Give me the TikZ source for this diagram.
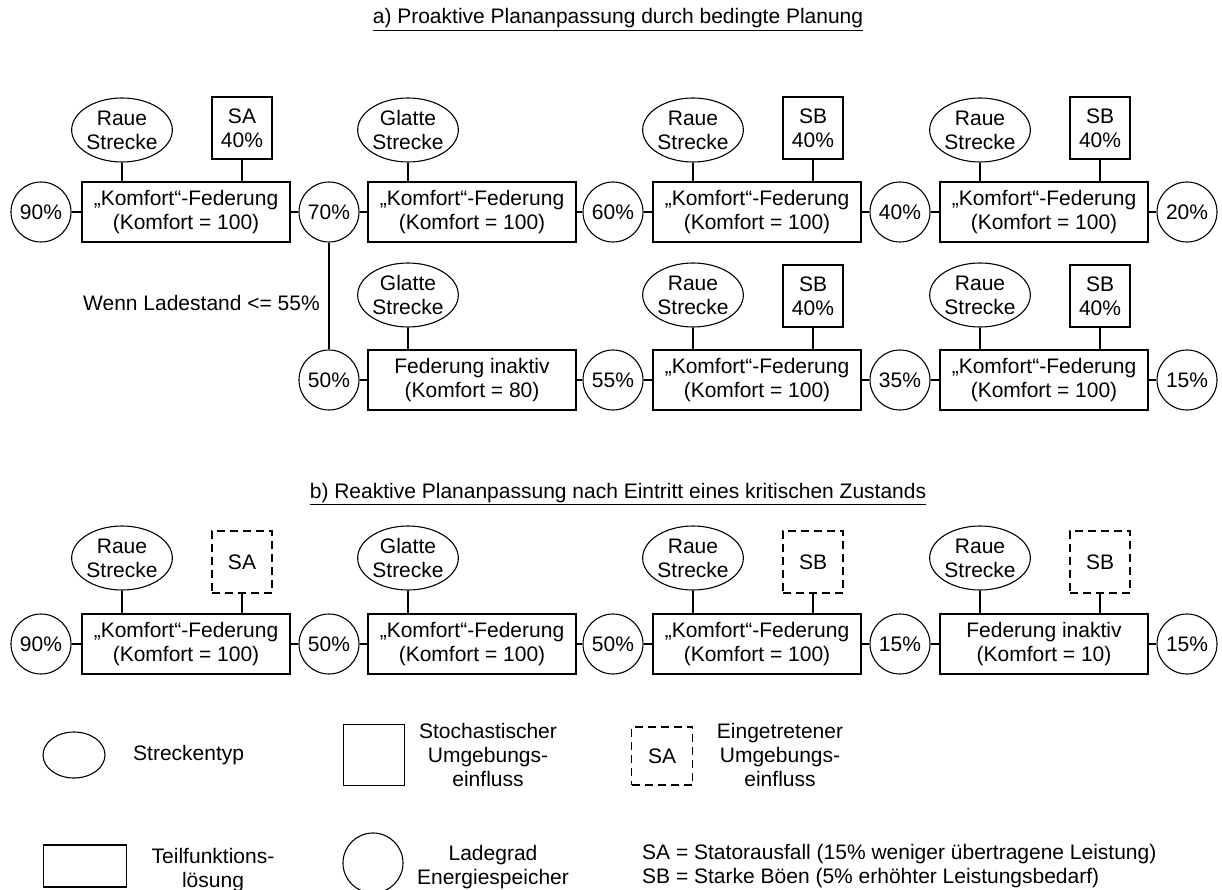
\documentclass[tikz,border=0pt]{standalone}
\usepackage{fontspec}
\setmainfont{Liberation Sans}
\usetikzlibrary{shapes.geometric}

\begin{document}
\begin{tikzpicture}[x=1pt,y=-1pt,
  every node/.style={font=\fontsize{21}{24}\selectfont, align=center, inner sep=0pt},
  fn/.style={draw, line width=1.1pt, minimum width=208pt, minimum height=60pt},
  soc/.style={draw, line width=1.1pt, circle, minimum size=60pt},
  track/.style={draw, line width=1.1pt, ellipse, minimum width=90pt, minimum height=64pt},
  env/.style={draw, line width=1.1pt, minimum width=60pt, minimum height=62pt},
  envd/.style={env, dash pattern=on 8pt off 5pt},
  link/.style={line width=1.1pt},
  heading/.style={anchor=base}
]
\useasboundingbox (0,0) rectangle (1222,890);

% ---------- a) proactive ----------
\node[heading] (ta) at (618,24) {\underline{a) Proaktive Plananpassung durch bedingte Planung}};

% upper branch
\node[soc] (a1c1) at (41,212) {90\%};
\node[fn]  (a1r1) at (186,212) {„Komfort“-Federung\\(Komfort = 100)};
\node[soc] (a1c2) at (329,212) {70\%};
\node[fn]  (a1r2) at (472,212) {„Komfort“-Federung\\(Komfort = 100)};
\node[soc] (a1c3) at (613,212) {60\%};
\node[fn]  (a1r3) at (757,212) {„Komfort“-Federung\\(Komfort = 100)};
\node[soc] (a1c4) at (900,212) {40\%};
\node[fn]  (a1r4) at (1044,212) {„Komfort“-Federung\\(Komfort = 100)};
\node[soc] (a1c5) at (1187,212) {20\%};

\node[track] (a1e1) at (122,130) {Raue\\Strecke};
\node[env]   (a1s1) at (242,128) {SA\\40\%};
\node[track] (a1e2) at (408,130) {Glatte\\Strecke};
\node[track] (a1e3) at (693,130) {Raue\\Strecke};
\node[env]   (a1s3) at (813,128) {SB\\40\%};
\node[track] (a1e4) at (980,130) {Raue\\Strecke};
\node[env]   (a1s4) at (1100,128) {SB\\40\%};

\draw[link] (a1c1) -- (a1r1) -- (a1c2) -- (a1r2) -- (a1c3) -- (a1r3) -- (a1c4) -- (a1r4) -- (a1c5);
\foreach \e/\r in {a1e1/a1r1, a1s1/a1r1, a1e2/a1r2, a1e3/a1r3, a1s3/a1r3, a1e4/a1r4, a1s4/a1r4}
  \draw[link] (\e) -- (\e |- \r.north);

% conditional branch
\node[soc] (a2c2) at (329,380) {50\%};
\node[fn]  (a2r2) at (472,380) {Federung inaktiv\\(Komfort = 80)};
\node[soc] (a2c3) at (613,380) {55\%};
\node[fn]  (a2r3) at (757,380) {„Komfort“-Federung\\(Komfort = 100)};
\node[soc] (a2c4) at (900,380) {35\%};
\node[fn]  (a2r4) at (1044,380) {„Komfort“-Federung\\(Komfort = 100)};
\node[soc] (a2c5) at (1187,380) {15\%};

\node[track] (a2e2) at (408,295) {Glatte\\Strecke};
\node[track] (a2e3) at (693,295) {Raue\\Strecke};
\node[env]   (a2s3) at (813,296) {SB\\40\%};
\node[track] (a2e4) at (980,295) {Raue\\Strecke};
\node[env]   (a2s4) at (1100,296) {SB\\40\%};

\draw[link] (a2c2) -- (a2r2) -- (a2c3) -- (a2r3) -- (a2c4) -- (a2r4) -- (a2c5);
\foreach \e/\r in {a2e2/a2r2, a2e3/a2r3, a2s3/a2r3, a2e4/a2r4, a2s4/a2r4}
  \draw[link] (\e) -- (\e |- \r.north);

\draw[link] (a1c2) -- (a2c2);
\node[anchor=east] (cond) at (320,303) {Wenn Ladestand <= 55\%};

% ---------- b) reactive ----------
\node[heading] (tb) at (618,498) {\underline{b) Reaktive Plananpassung nach Eintritt eines kritischen Zustands}};

\node[soc] (bc1) at (41,644) {90\%};
\node[fn]  (br1) at (186,644) {„Komfort“-Federung\\(Komfort = 100)};
\node[soc] (bc2) at (329,644) {50\%};
\node[fn]  (br2) at (472,644) {„Komfort“-Federung\\(Komfort = 100)};
\node[soc] (bc3) at (613,644) {50\%};
\node[fn]  (br3) at (757,644) {„Komfort“-Federung\\(Komfort = 100)};
\node[soc] (bc4) at (900,644) {15\%};
\node[fn]  (br4) at (1044,644) {Federung inaktiv\\(Komfort = 10)};
\node[soc] (bc5) at (1187,644) {15\%};

\node[track] (be1) at (122,558) {Raue\\Strecke};
\node[envd]  (bs1) at (242,562) {SA};
\node[track] (be2) at (408,558) {Glatte\\Strecke};
\node[track] (be3) at (693,558) {Raue\\Strecke};
\node[envd]  (bs3) at (813,562) {SB};
\node[track] (be4) at (980,558) {Raue\\Strecke};
\node[envd]  (bs4) at (1100,562) {SB};

\draw[link] (bc1) -- (br1) -- (bc2) -- (br2) -- (bc3) -- (br3) -- (bc4) -- (br4) -- (bc5);
\foreach \e/\r in {be1/br1, bs1/br1, be2/br2, be3/br3, bs3/br3, be4/br4, bs4/br4}
  \draw[link] (\e) -- (\e |- \r.north);

% ---------- legend ----------
\node[draw, line width=1.1pt, ellipse, minimum width=62pt, minimum height=46pt] (lgE) at (74,755) {};
\node[anchor=west] (lgEt) at (133,755) {Streckentyp};
\node[draw, line width=1.1pt, minimum width=61pt, minimum height=61pt] (lgS) at (374,755) {};
\node (lgSt) at (488,755) {Stochastischer\\Umgebungs-\\einfluss};
\node[draw, line width=1.1pt, dash pattern=on 8pt off 5pt, minimum width=61pt, minimum height=58pt] (lgD) at (662,756) {SA};
\node (lgDt) at (780,755) {Eingetretener\\Umgebungs-\\einfluss};
\node[draw, line width=1.1pt, minimum width=83pt, minimum height=42pt] (lgR) at (85,866) {};
\node (lgRt) at (213,870) {Teilfunktions-\\lösung};
\node[draw, line width=1.1pt, circle, minimum size=60pt] (lgC) at (373,863) {};
\node (lgCt) at (493,867) {Ladegrad\\Energiespeicher};
\node[anchor=west, align=left] (lgAb) at (642,866) {SA = Statorausfall (15\% weniger übertragene Leistung)\\SB = Starke Böen (5\% erhöhter Leistungsbedarf)};
\end{tikzpicture}
\end{document}
